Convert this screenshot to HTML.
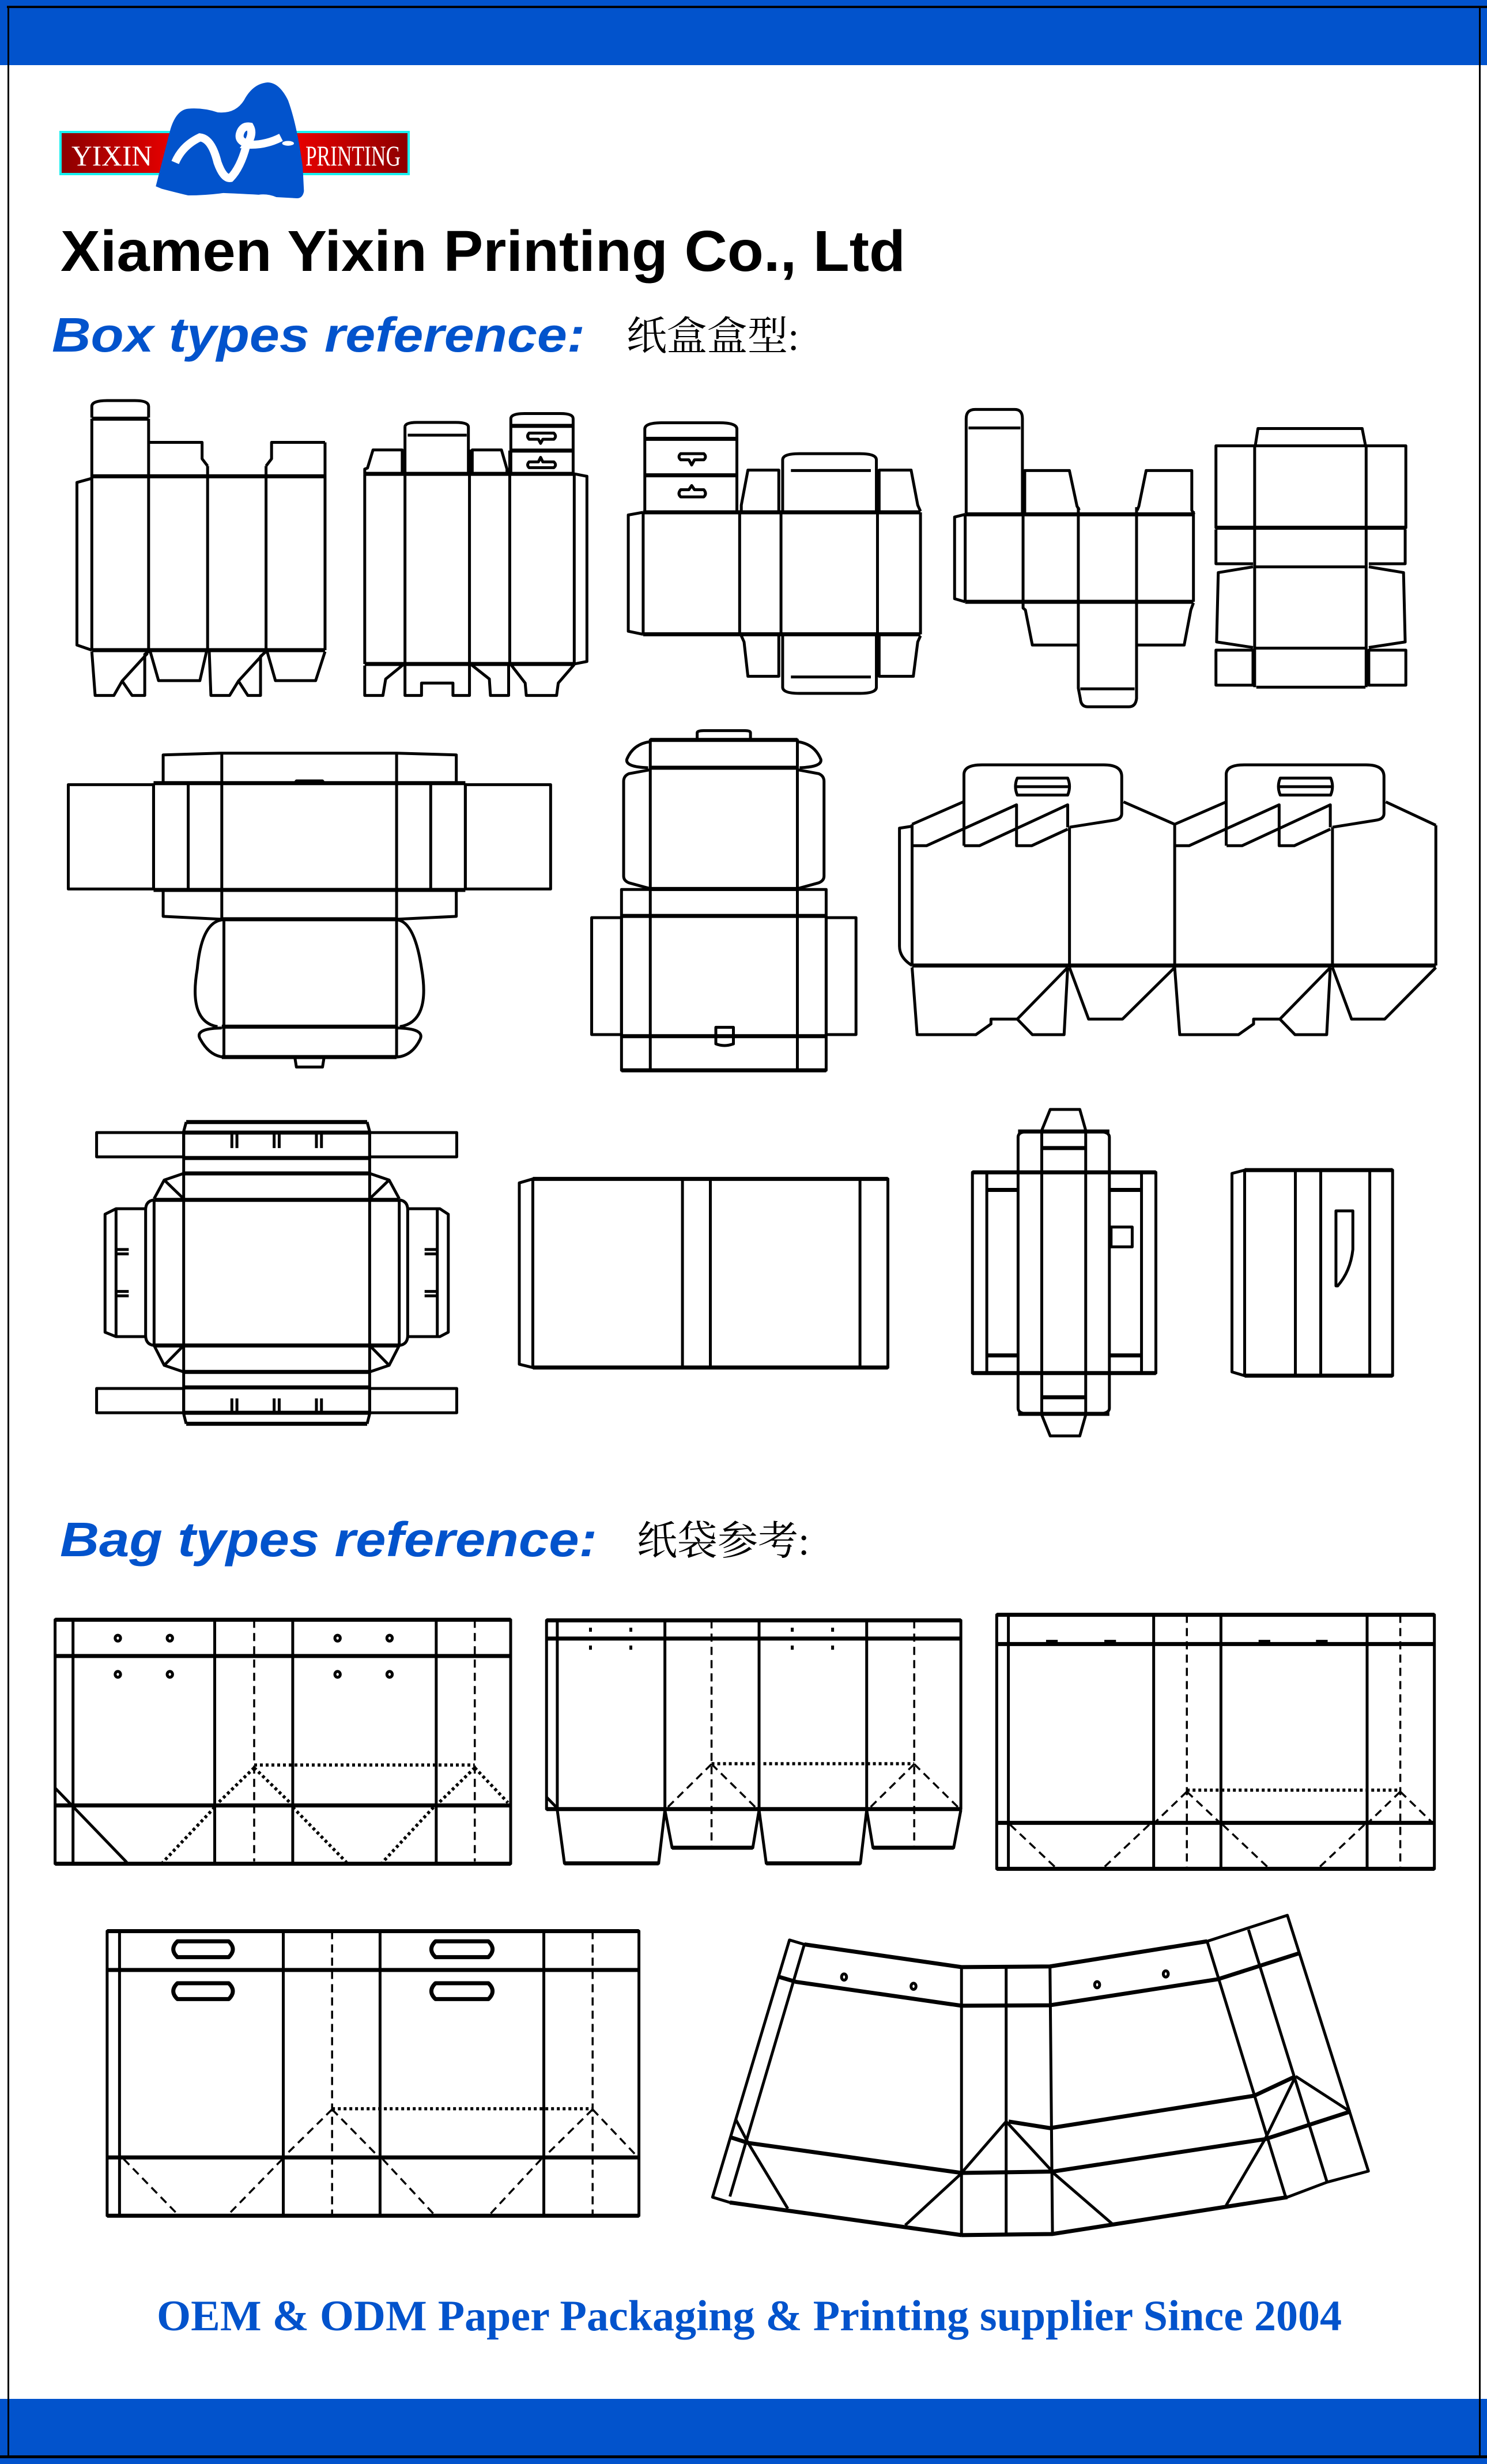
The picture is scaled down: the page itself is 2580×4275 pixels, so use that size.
<!DOCTYPE html>
<html><head><meta charset="utf-8"><style>
html,body{margin:0;padding:0;background:#fff;}
svg{display:block;}
.d *{vector-effect:non-scaling-stroke;fill:none;stroke:#000;stroke-width:5;stroke-linejoin:round;stroke-linecap:butt;}
.d .t{stroke-width:7;}
.d .ds{stroke-dasharray:14 9;stroke-width:3.5;}
.d .dt{stroke-dasharray:5 5;stroke-width:5.5;}
.d .th{stroke-width:3;}
</style></head><body>
<svg width="2580" height="4275" xmlns="http://www.w3.org/2000/svg">
<rect x="0" y="0" width="2580" height="4275" fill="#fff"/>
<rect x="0" y="0" width="2580" height="113" fill="#0253cc"/>
<rect x="12" y="10" width="2568" height="4" fill="#000"/>
<rect x="0" y="4162" width="2580" height="113" fill="#0253cc"/>
<rect x="0" y="4260" width="2580" height="5" fill="#000"/>
<rect x="13" y="10" width="3" height="4252" fill="#000"/>
<rect x="2566" y="10" width="3" height="4252" fill="#000"/>

<defs><linearGradient id="rg" x1="0" x2="1"><stop offset="0" stop-color="#8c0000"/><stop offset="0.35" stop-color="#f00000"/><stop offset="0.65" stop-color="#f00000"/><stop offset="1" stop-color="#8c0000"/></linearGradient></defs>
<rect x="105" y="229" width="604" height="73" fill="url(#rg)" stroke="#19f0f0" stroke-width="4"/>
<text x="124" y="287" font-family="Liberation Serif, serif" font-size="50" fill="#fff" textLength="140" lengthAdjust="spacingAndGlyphs">YIXIN</text>
<text x="530" y="287" font-family="Liberation Serif, serif" font-size="50" fill="#fff" textLength="165" lengthAdjust="spacingAndGlyphs">PRINTING</text>
<g transform="translate(0,0) scale(1.02,0.4145)">
<path d="M265,780 L290,540 Q300,460 320,455 Q345,450 370,470 Q400,478 415,420 Q430,350 455,345 Q475,345 490,420 Q505,520 515,700 L517,800 Q515,830 505,830 L470,825 Q455,810 440,815 Q400,810 380,808 Q350,818 320,818 Q290,800 275,790 Z" fill="#0253cc"/>
<path d="M298,680 Q310,610 340,575 Q360,580 370,680 Q380,750 392,745 Q410,700 420,600 Q405,590 408,560 Q412,525 425,530 Q432,560 420,605 Q450,610 478,575" fill="none" stroke="#fff" stroke-width="14" vector-effect="non-scaling-stroke"/>
<circle cx="490" cy="600" r="10" fill="#fff"/>
</g>

<text x="105" y="470" font-family="Liberation Sans, sans-serif" font-weight="bold" font-size="100" fill="#000" textLength="1466" lengthAdjust="spacingAndGlyphs">Xiamen Yixin Printing Co., Ltd</text>
<text x="90" y="610" font-family="Liberation Sans, sans-serif" font-weight="bold" font-style="italic" font-size="84" fill="#0253cc" textLength="925" lengthAdjust="spacingAndGlyphs">Box types reference:</text>
<text x="1087" y="607" font-family="Liberation Serif, 'Noto Serif CJK SC', serif" font-size="70" fill="#000">纸盒盒型:</text>
<text x="104" y="2700" font-family="Liberation Sans, sans-serif" font-weight="bold" font-style="italic" font-size="84" fill="#0253cc" textLength="932" lengthAdjust="spacingAndGlyphs">Bag types reference:</text>
<text x="1105" y="2697" font-family="Liberation Serif, 'Noto Serif CJK SC', serif" font-size="70" fill="#000">纸袋参考:</text>
<text x="272" y="4043" font-family="Liberation Serif, serif" font-weight="bold" font-size="75" fill="#0253cc" textLength="2056" lengthAdjust="spacingAndGlyphs">OEM &amp; ODM Paper Packaging &amp; Printing supplier Since 2004</text>

<g class="d" transform="translate(100,680) scale(0.9566,0.357)">
<path d="M62,125 L62,70 Q62,42 90,42 L140,42 Q165,42 165,70 L165,125"/>
<path class="t" d="M62,130 L165,130"/>
<path d="M62,130 L62,1255 M165,130 L165,1255 M272,360 L272,1255 M378,360 L378,1255 M485,245 L485,1255"/>
<path d="M165,245 L262,245 L262,325 L272,360"/>
<path d="M378,360 L388,325 L388,245 L485,245"/>
<path class="t" d="M62,410 L485,410 M62,1255 L485,1255"/>
<path d="M62,420 L35,440 L35,1230 L62,1255"/>
<path d="M62,1262 L68,1475 L102,1475 L117,1405 L135,1475 L158,1475 L158,1275 L165,1262 M163,1270 L117,1405"/>
<path d="M168,1262 L183,1403 L258,1403 L270,1262"/>
<path d="M275,1262 L278,1475 L312,1475 L328,1405 L345,1475 L368,1475 L368,1285 L378,1262 M374,1270 L328,1405"/>
<path d="M380,1262 L395,1403 L468,1403 L485,1262"/>
<path d="M557,398 L557,1322 M630,170 L630,1322 M747,280 L747,1322 M820,285 L820,1322 M937,398 L937,1322"/>
<path class="t" d="M557,398 L937,398 M557,1322 L937,1322"/>
<path d="M937,398 L960,410 L960,1310 L937,1322"/>
<path d="M557,398 L557,375 L562,370 L572,282 L625,282 L625,398"/>
<path d="M630,170 Q630,148 652,148 L722,148 Q745,148 745,170 L745,398 M635,210 L742,210"/>
<path d="M752,398 L752,282 L805,282 L815,375 L815,398"/>
<path d="M822,398 L822,130 Q822,105 847,105 L912,105 Q935,105 935,130 L935,398"/>
<path class="t" d="M822,165 L935,165 M822,285 L935,285"/>
<path d="M855,200 L900,200 Q906,215 900,230 L880,230 L876,250 L872,230 L855,230 Q850,215 855,200 Z"/>
<path d="M855,340 L872,340 L876,318 L880,340 L900,340 Q906,355 900,368 L855,368 Q850,355 855,340 Z"/>
<path d="M557,1330 L557,1475 L590,1475 L595,1395 L627,1325"/>
<path d="M630,1325 L630,1475 L660,1475 L660,1415 L717,1415 L717,1475 L747,1475 L747,1325"/>
<path d="M750,1325 L783,1395 L785,1475 L818,1475 L818,1325"/>
<path d="M822,1325 L848,1415 L850,1475 L905,1475 L908,1415 L937,1325"/>
<path d="M1065,580 L1065,180 Q1065,150 1095,150 L1200,150 Q1232,150 1232,180 L1232,580"/>
<path class="t" d="M1065,228 L1232,228 M1065,405 L1232,405"/>
<path d="M1130,300 L1172,300 Q1178,315 1172,330 L1155,330 L1150,355 L1145,330 L1130,330 Q1124,315 1130,300 Z"/>
<path d="M1130,475 L1145,475 L1150,455 L1155,475 L1172,475 Q1178,495 1172,510 L1130,510 Q1124,495 1130,475 Z"/>
<path class="t" d="M1062,585 L1565,585 M1062,1178 L1565,1178"/>
<path d="M1062,585 L1062,1178 M1237,585 L1237,1178 M1312,585 L1312,1178 M1487,585 L1487,1178 M1565,585 L1565,1178"/>
<path d="M1062,585 L1035,598 L1035,1163 L1062,1178"/>
<path d="M1240,580 L1240,550 L1252,380 L1308,380 L1308,580"/>
<path d="M1490,580 L1490,380 L1548,380 L1560,550 L1565,580"/>
<path d="M1315,580 L1315,330 Q1315,300 1345,300 L1455,300 Q1485,300 1485,330 L1485,580 M1330,382 L1475,382"/>
<path d="M1240,1185 L1245,1215 L1252,1382 L1308,1382 L1308,1185"/>
<path d="M1490,1185 L1490,1382 L1552,1382 L1560,1215 L1565,1185"/>
<path d="M1315,1185 L1315,1435 Q1315,1465 1345,1465 L1455,1465 Q1485,1465 1485,1435 L1485,1185 M1330,1385 L1475,1385"/>
</g>

<g class="d" transform="translate(1600,680) scale(0.574,0.357)">
<path d="M133,590 L133,130 Q133,85 160,85 L280,85 Q303,85 303,130 L303,590 M140,175 L297,175"/>
<path class="t" d="M130,595 L820,595 M130,1020 L820,1020"/>
<path d="M130,595 L130,1020 M305,590 L305,1020 M472,560 L472,1020 M648,560 L648,1020 M820,580 L820,1020"/>
<path d="M130,595 L98,608 L98,1005 L130,1020"/>
<path d="M310,590 L310,382 L445,382 L468,555 L475,575"/>
<path d="M650,575 L655,555 L677,382 L815,382 L815,575 L822,595"/>
<path d="M305,1025 L305,1050 L312,1060 L333,1230 L470,1230"/>
<path d="M650,1230 L792,1230 L812,1060 L820,1025"/>
<path d="M472,1025 L472,1440 L478,1490 Q480,1530 500,1530 L625,1530 Q645,1530 648,1490 L648,1025 M478,1443 L642,1443"/>
<path d="M1007,260 L1015,178 L1330,178 L1340,260"/>
<path d="M888,262 L1462,262 L1462,660 L888,660 Z"/>
<path class="t" d="M888,660 L1462,660"/>
<path d="M1005,262 L1005,1435 M1342,262 L1342,1435"/>
<path d="M888,668 L888,835 L1000,835 M1350,835 L1460,835 L1460,668"/>
<path d="M1005,850 L1342,850 M1005,1245 L1342,1245 M1010,1435 L1340,1435"/>
<path d="M1000,850 L895,878 L890,1215 L1000,1242 M1350,850 L1455,878 L1460,1215 L1350,1242"/>
<path d="M888,1255 L1000,1255 L1000,1425 L888,1425 Z M1350,1255 L1462,1255 L1462,1425 L1350,1425 Z"/>
</g>

<g class="d" transform="translate(100,1260) scale(0.9247,0.3827)">
<path d="M20,265 L180,265 L180,738 L20,738 Z M765,265 L925,265 L925,738 L765,738 Z"/>
<path class="t" d="M180,258 L765,258 M180,742 L765,742"/>
<path d="M180,258 L180,742 M245,258 L245,742 M308,122 L308,875 M636,122 L636,875 M700,258 L700,742 M765,258 L765,742"/>
<path d="M198,255 L198,130 L308,122 L636,122 L748,130 L748,255"/>
<path d="M445,258 L448,248 L497,248 L500,258"/>
<path d="M198,742 L198,862 L308,875 L636,875 L748,862 L748,742"/>
<path class="t" d="M308,875 L636,875"/>
<path d="M312,875 L312,1500 M636,875 L636,1500"/>
<path d="M308,878 Q270,890 262,1100 Q245,1340 300,1362 M638,878 Q670,890 683,1100 Q700,1340 642,1362"/>
<path class="t" d="M308,1362 L636,1362 M308,1500 L636,1500"/>
<path d="M308,1368 Q255,1370 268,1420 Q285,1495 312,1500 M636,1368 Q690,1370 680,1420 Q665,1495 636,1500"/>
<path d="M445,1500 L448,1545 L497,1545 L500,1500"/>
<path d="M1200,62 L1200,30 Q1200,20 1212,20 L1290,20 Q1300,20 1300,30 L1300,62"/>
<path d="M1112,62 L1388,62 L1388,188 L1112,188 Z"/>
<path class="t" d="M1112,62 L1388,62 M1112,188 L1388,188"/>
<path d="M1112,70 Q1080,80 1068,150 Q1065,185 1108,188 M1388,70 Q1420,80 1432,150 Q1435,185 1392,188"/>
<path d="M1112,188 L1112,1560 M1388,188 L1388,1560"/>
<path d="M1110,198 L1072,215 Q1062,225 1062,250 L1062,680 Q1062,700 1072,710 L1110,735"/>
<path d="M1390,198 L1428,215 Q1438,225 1438,250 L1438,680 Q1438,700 1428,710 L1390,735"/>
<path class="t" d="M1112,738 L1388,738"/>
<path d="M1058,740 L1442,740 L1442,1560 L1058,1560 Z"/>
<path class="t" d="M1058,860 L1442,860 M1058,1405 L1442,1405 M1058,1560 L1442,1560"/>
<path d="M1002,868 L1058,868 L1058,1398 L1002,1398 Z M1442,868 L1498,868 L1498,1398 L1442,1398 Z"/>
<path d="M1235,1405 L1235,1365 L1268,1365 L1268,1405 M1235,1405 L1235,1440 Q1250,1455 1268,1440 L1268,1405"/>
</g>

<g class="d" transform="translate(1540,1300) scale(0.625,0.338)">
<path d="M68,395 L33,405 L33,1010 Q33,1070 68,1110"/>
<path d="M68,385 L68,1110 M505,400 L505,1110 M797,385 L797,1110 M1235,400 L1235,1110 M1522,390 L1522,1110"/>
<path class="t" d="M68,1110 L1522,1110"/>
<path d="M68,385 L210,270 M655,270 L797,385 L940,270 M1383,270 L1522,390"/>
<path d="M212,495 L212,130 Q212,80 262,80 L600,80 Q650,80 650,140 L650,330 Q650,360 625,365 L505,400"/>
<path d="M940,495 L940,130 Q940,80 990,80 L1328,80 Q1378,80 1378,140 L1378,330 Q1378,360 1353,365 L1235,400"/>
<path d="M360,148 L500,148 Q510,190 500,235 L360,235 Q350,190 360,148 Z M358,192 L505,192"/>
<path d="M1090,148 L1230,148 Q1240,190 1230,235 L1090,235 Q1080,190 1090,148 Z M1088,192 L1235,192"/>
<path d="M68,495 L108,495 L358,285 L358,495 L400,495 L500,410"/>
<path d="M212,495 L255,495 L500,285 L500,400"/>
<path d="M797,495 L837,495 L1087,285 L1087,495 L1129,495 L1229,410"/>
<path d="M941,495 L984,495 L1229,285 L1229,400"/>
<path d="M68,1120 L82,1465 L245,1465 L287,1410 L287,1385 L360,1385 L500,1120 M360,1385 L402,1465 L490,1465 L500,1120"/>
<path d="M505,1120 L558,1385 L652,1385 L797,1120"/>
<path d="M797,1120 L811,1465 L974,1465 L1016,1410 L1016,1385 L1089,1385 L1229,1120 M1089,1385 L1131,1465 L1219,1465 L1229,1120"/>
<path d="M1235,1120 L1288,1385 L1380,1385 L1522,1120"/>
</g>

<g class="d" transform="translate(150,1900) scale(1.4668,0.3827)">
<path class="t" d="M118,122 L332,122 M115,170 L335,170 M115,285 L335,285 M115,355 L335,355 M80,475 L370,475 M80,1135 L370,1135 M115,1255 L335,1255 M115,1325 L335,1325 M115,1440 L335,1440 M118,1490 L332,1490"/>
<path d="M118,122 L115,165 M332,122 L335,165 M118,1490 L115,1445 M332,1490 L335,1445"/>
<path d="M115,165 L115,1445 M335,165 L335,1445"/>
<path d="M172,175 L172,240 M178,175 L178,240 M222,175 L222,240 M228,175 L228,240 M272,175 L272,240 M278,175 L278,240"/>
<path d="M172,1375 L172,1440 M178,1375 L178,1440 M222,1375 L222,1440 M228,1375 L228,1440 M272,1375 L272,1440 M278,1375 L278,1440"/>
<path d="M12,170 L115,170 L115,280 L12,280 Z M335,170 L438,170 L438,280 L335,280 Z M12,1330 L115,1330 L115,1440 L12,1440 Z M335,1330 L438,1330 L438,1440 L335,1440 Z"/>
<path d="M115,355 L92,385 L115,470 M335,355 L358,385 L335,470 M92,385 L80,470 M358,385 L370,470"/>
<path d="M115,1135 L92,1225 L115,1255 M335,1135 L358,1225 L335,1255 M80,1135 L92,1225 M370,1135 L358,1225"/>
<path d="M80,475 Q70,480 70,520 L70,1090 Q70,1130 80,1135 M370,475 Q380,480 380,520 L380,1090 Q380,1130 370,1135 M80,475 L80,1135 M370,475 L370,1135"/>
<path d="M70,515 L35,515 L22,540 L22,1075 L35,1095 L70,1095 M35,515 L35,1095"/>
<path d="M380,515 L418,515 L428,540 L428,1075 L418,1095 L380,1095 M415,515 L415,1095"/>
<path d="M35,700 L50,700 M35,720 L50,720 M35,890 L50,890 M35,910 L50,910 M400,700 L415,700 M400,720 L415,720 M400,890 L415,890 M400,910 L415,910"/>
<path d="M528,380 L948,380 L948,1235 L528,1235 Z M528,380 L512,398 L512,1220 L528,1235 M705,380 L705,1235 M738,380 L738,1235 M915,380 L915,1235"/>
<path class="t" d="M528,380 L948,380 M528,1235 L948,1235"/>
<path d="M1048,350 L1265,350 L1265,1260 L1048,1260 Z"/>
<path class="t" d="M1048,350 L1265,350 M1048,1260 L1265,1260"/>
<path d="M1065,350 L1065,1260 M1248,350 L1248,1260"/>
<path d="M1102,1260 L1102,1420 Q1102,1445 1115,1445 L1195,1445 Q1210,1445 1210,1420 L1210,1260 M1102,350 L1102,190 Q1102,165 1115,165 L1195,165 Q1210,165 1210,190 L1210,350"/>
<path d="M1102,350 L1102,1260 M1210,350 L1210,1260 M1130,160 L1130,1450 M1182,160 L1182,1450"/>
<path d="M1130,160 L1140,65 L1175,65 L1182,160 M1130,1450 L1140,1545 L1175,1545 L1182,1450"/>
<path class="t" d="M1130,240 L1182,240 M1130,1370 L1182,1370 M1102,165 L1210,165 M1102,1445 L1210,1445 M1065,430 L1102,430 M1210,430 L1248,430 M1065,1180 L1102,1180 M1210,1180 L1248,1180"/>
<path d="M1212,598 L1237,598 L1237,688 L1212,688 Z"/>
<path d="M1370,340 L1545,340 L1545,1272 L1370,1272 Z M1370,340 L1355,355 L1355,1255 L1370,1272 M1430,340 L1430,1272 M1460,340 L1460,1272 M1518,340 L1518,1272"/>
<path class="t" d="M1370,340 L1545,340 M1370,1272 L1545,1272"/>
<path d="M1478,525 L1498,525 L1498,700 Q1495,800 1480,865 L1478,865 Z"/>
</g>

<g class="d" transform="translate(80,2780) scale(1.556,0.3189)">
<path d="M10,95 L518,95 L518,1422 L10,1422 Z"/>
<path class="t" d="M10,95 L518,95 M10,292 L518,292 M10,1105 L518,1105 M10,1422 L518,1422"/>
<path d="M30,95 L30,1422 M188,95 L188,1422 M275,95 L275,1422 M435,95 L435,1422"/>
<path class="ds" d="M232,95 L232,1410 M478,95 L478,1410"/>
<ellipse cx="80" cy="195" rx="3" ry="16"/><ellipse cx="138" cy="195" rx="3" ry="16"/><ellipse cx="325" cy="195" rx="3" ry="16"/><ellipse cx="383" cy="195" rx="3" ry="16"/>
<ellipse cx="80" cy="392" rx="3" ry="16"/><ellipse cx="138" cy="392" rx="3" ry="16"/><ellipse cx="325" cy="392" rx="3" ry="16"/><ellipse cx="383" cy="392" rx="3" ry="16"/>
<path d="M10,1010 L90,1415"/>
<path class="dt" d="M232,885 L478,885"/>
<path class="dt" d="M232,900 L192,1090 M232,900 L272,1090 M478,900 L438,1090 M478,900 L515,1090 M188,1115 L130,1415 M275,1115 L335,1415 M432,1115 L375,1415"/>
<path d="M558,98 L1020,98 L1020,1125 L558,1125 Z"/>
<path class="t" d="M558,98 L1020,98 M558,197 L1020,197 M558,1125 L1020,1125"/>
<path d="M570,98 L570,1125 M690,98 L690,1130 M795,98 L795,1130 M915,98 L915,1130"/>
<path class="ds" d="M742,98 L742,1330 M968,98 L968,1330"/>
<path d="M607,138 L607,160 M652,138 L652,160 M832,138 L832,160 M877,138 L877,160 M607,235 L607,258 M652,235 L652,258 M832,235 L832,258 M877,235 L877,258"/>
<path class="dt" d="M742,878 L968,878"/>
<path class="ds" d="M742,880 L692,1120 M742,880 L792,1120 M968,880 L918,1120 M968,880 L1018,1120"/>
<path d="M558,1060 L570,1120"/>
<path d="M570,1130 L578,1420 L683,1420 L690,1130 M690,1130 L698,1335 L788,1335 L795,1130 M795,1130 L803,1420 L908,1420 L915,1130 M915,1130 L922,1335 L1012,1335 L1020,1130"/>
<path class="t" d="M578,1420 L683,1420 M698,1335 L788,1335 M803,1420 L908,1420 M922,1335 L1012,1335"/>
<path d="M1060,68 L1548,68 L1548,1450 L1060,1450 Z"/>
<path class="t" d="M1060,68 L1548,68 M1060,227 L1548,227 M1060,1200 L1548,1200 M1060,1450 L1548,1450"/>
<path d="M1073,68 L1073,1450 M1235,68 L1235,1450 M1310,68 L1310,1450 M1473,68 L1473,1450"/>
<path class="ds" d="M1272,68 L1272,1450 M1510,68 L1510,1450"/>
<path class="t" d="M1115,215 L1128,215 M1180,215 L1193,215 M1352,215 L1365,215 M1416,215 L1429,215"/>
<path class="dt" d="M1272,1022 L1510,1022"/>
<path class="ds" d="M1272,1030 L1237,1195 M1272,1030 L1308,1195 M1510,1030 L1475,1195 M1510,1030 L1545,1195 M1075,1210 L1125,1440 M1230,1210 L1180,1440 M1312,1210 L1362,1440 M1470,1210 L1420,1440"/>
</g>

<g class="d" transform="translate(150,3300) scale(1.435,0.3827)">
<path d="M25,132 L668,132 L668,1422 L25,1422 Z"/>
<path class="t" d="M25,132 L668,132 M25,308 L668,308 M25,1158 L668,1158 M25,1422 L668,1422"/>
<path d="M40,132 L40,1422 M238,132 L238,1422 M355,132 L355,1422 M553,132 L553,1422"/>
<path class="ds" d="M297,132 L297,1422 M612,132 L612,1422"/>
<path class="t" d="M110,178 L172,178 Q182,214 172,250 L110,250 Q100,214 110,178 Z M422,178 L486,178 Q496,214 486,250 L422,250 Q412,214 422,178 Z M110,368 L172,368 Q182,404 172,440 L110,440 Q100,404 110,368 Z M422,368 L486,368 Q496,404 486,440 L422,440 Q412,404 422,368 Z"/>
<path class="dt" d="M297,937 L612,937"/>
<path class="ds" d="M297,940 L240,1150 M297,940 L352,1150 M612,940 L555,1150 M612,940 L665,1150 M45,1165 L110,1415 M237,1165 L172,1415 M358,1165 L420,1415 M550,1165 L488,1415"/>
<path d="M850,172 L868,192 L1058,295 L1165,292 L1355,178 L1452,60 L1550,1220 L1500,1270 L1452,1338 L1168,1505 L1058,1510 L778,1362 L757,1338 Z"/>
<path class="t" d="M868,192 L1058,295 L1165,292 L1355,178 M1058,1510 L1168,1505 L1452,1338 M778,1362 L1058,1510"/>
<path class="t" d="M838,340 L858,362 L1058,470 L1165,468 L1368,350 L1468,230"/>
<path class="t" d="M780,1068 L800,1092 L1058,1228 L1168,1222 L1425,1075 L1528,950"/>
<path class="t" d="M1115,995 L1165,1025 L1412,878 L1462,790"/>
<path d="M1462,790 L1528,950 M1058,295 L1058,1510 M1112,295 L1112,1510 M1165,292 L1168,1505 M868,192 L778,1335 M1405,125 L1500,1270 M1355,178 L1450,1338"/>
<path d="M1112,995 L1058,1228 M1112,995 L1168,1222 M1058,1230 L990,1465 M1168,1225 L1240,1458 M785,985 L800,1092 L848,1390 M1462,790 L1425,1075 L1378,1375 M1462,790 L1412,878"/>
<ellipse cx="916" cy="340" rx="3" ry="14"/><ellipse cx="1000" cy="382" rx="3" ry="14"/><ellipse cx="1222" cy="375" rx="3" ry="14"/><ellipse cx="1305" cy="326" rx="3" ry="14"/>
</g>
</svg>
</body></html>
